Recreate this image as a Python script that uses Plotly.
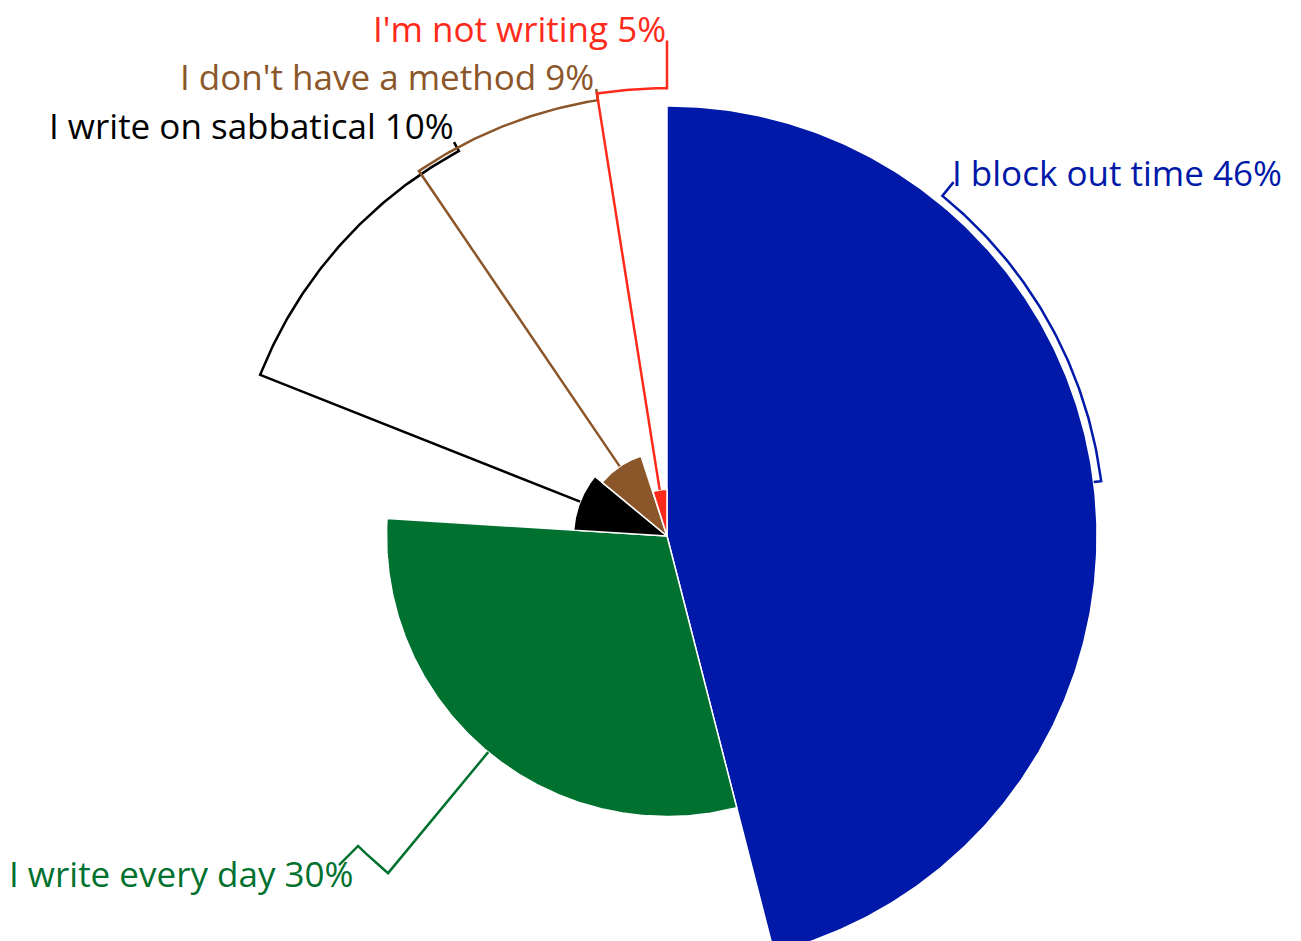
import numpy as np
import plotly.graph_objects as go

# Survey answers: how people find time to write
categories = [
    "I block out time",
    "I write every day",
    "I write on sabbatical",
    "I don't have a method",
    "I'm not writing",
]
shares = [46, 30, 10, 9, 5]
colors = ["#0019A8", "#00712E", "#000000", "#8B5629", "#FF2A1A"]

# Leader-line layout per slice: arc radius, angle where the arc stops,
# radius where the outward tick ends, and the label anchor (r, theta, side)
leader_arc_r = [46.8, 46.8, 46.8, 47.2, 47.9]
leader_end_theta = [39.0, 224.9, 331.6, 351.0, 360.0]
leader_tick_r = [48.7, 49.7, 47.9, 48.4, 53.0]
label_anchor = [
    (49.3, 37.9, "left"),
    (49.05, 222.7, "right"),
    (49.4, 332.8, "right"),
    (49.7, 351.2, "right"),
    (54.3, 0.1, "right"),
]


def to_xy(r, theta_deg):
    """Polar (clockwise from 12 o'clock) to plane coordinates."""
    t = np.radians(np.asarray(theta_deg, dtype=float))
    r = np.asarray(r, dtype=float)
    return r * np.sin(t), r * np.cos(t)


# Wedge angles: each slice spans its share of the full turn
spans = [s * 3.6 for s in shares]
starts = np.concatenate([[0.0], np.cumsum(spans)[:-1]])
mids = [st + sp / 2 for st, sp in zip(starts, spans)]

fig = go.Figure()

for cat, val, col, st, sp in zip(categories, shares, colors, starts, spans):
    arc = np.linspace(st, st + sp, max(3, int(sp * 2) + 1))
    ax_, ay_ = to_xy(np.full(arc.shape, val), arc)
    xs = np.concatenate([[0.0], ax_, [0.0]])
    ys = np.concatenate([[0.0], ay_, [0.0]])
    fig.add_trace(go.Scatter(
        x=xs, y=ys, mode="lines", fill="toself",
        fillcolor=col, line=dict(color="white", width=1.5),
        hoverinfo="text", hovertext=f"{cat} {val}%",
    ))

for cat, val, col, mid, ar, et, tr, (lr, lt, side) in zip(
        categories, shares, colors, mids, leader_arc_r, leader_end_theta,
        leader_tick_r, label_anchor):
    n = max(2, int(abs(et - mid)) * 2 + 2)
    arc_theta = np.linspace(mid, et, n)
    rr = np.concatenate([[val], np.full(n, ar), [tr]])
    tt = np.concatenate([[mid], arc_theta, [et]])
    lx, ly = to_xy(rr, tt)
    fig.add_trace(go.Scatter(
        x=lx, y=ly, mode="lines",
        line=dict(color=col, width=2.5),
        hoverinfo="skip",
    ))
    tx, ty = to_xy(lr, lt)
    fig.add_annotation(
        x=float(tx), y=float(ty), xref="x", yref="y",
        text=f"{cat} {val}%", showarrow=False,
        xanchor=side, yanchor="middle",
        font=dict(family="Open Sans", size=35, color=col),
    )

# Plane scale: pixels per percentage point, with the pie centre placed
# inside a full-bleed plot area
SCALE = 9.35
W, H = 1301, 941
cx, cy = 667, 536

fig.update_layout(
    width=W, height=H, autosize=False,
    margin=dict(l=0, r=0, t=0, b=0),
    paper_bgcolor="white", plot_bgcolor="white",
    showlegend=False,
    xaxis=dict(range=[-cx / SCALE, (W - cx) / SCALE], visible=False,
               fixedrange=True),
    yaxis=dict(range=[-(H - cy) / SCALE, cy / SCALE], visible=False,
               fixedrange=True),
)

fig.write_html("out.html")
